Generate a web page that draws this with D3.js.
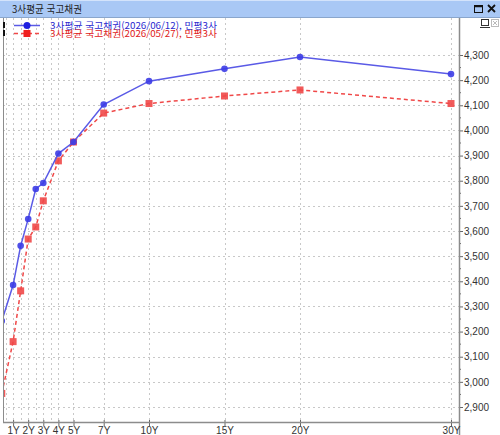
<!DOCTYPE html>
<html lang="ko">
<head>
    <meta charset="UTF-8">
    <title>3사평균 국고채권</title>
    <style>
        body { margin: 0; background: #fff; }
        svg { display: block; }
        .y_axis text, .x_axis text {
            font-family: "Liberation Sans", sans-serif;
            font-size: 10px;
            fill: #333;
        }
        .kr {
            font-family: "Noto Sans CJK KR", sans-serif;
            font-size: 10px;
        }
        .legend_text {
            font-family: "Noto Sans CJK KR", sans-serif;
            font-size: 9px;
        }
    </style>
</head>
<body>
<script src="https://cdn.jsdelivr.net/npm/d3@7"></script>
<script>
    // tenors in years
    const tenors = [0.25, 1, 1.5, 2, 2.5, 3, 4, 5, 7, 10, 15, 20, 30];
    const series_0612 = [3242, 3385, 3541, 3648, 3767, 3791, 3908, 3954, 4103, 4196, 4245, 4292, 4224];
    const series_0527 = [2954, 3160, 3362, 3568, 3616, 3720, 3879, 3954, 4069, 4107, 4137, 4161, 4107];
    const tick_tenors = [1, 2, 3, 4, 5, 7, 10, 15, 20, 30];
    const grid_tenors = [0.5, 1, 1.5, 2, 2.5, 3, 3.5, 4, 5, 7, 10, 15, 20, 30];
    const y_ticks = d3.range(2900, 4301, 100);
    const legend_labels = ['3사평균 국고채권(2026/06/12), 민평3사', '3사평균 국고채권(2026/05/27), 민평3사'];

    const svg_w = 500, svg_h = 435;
    const plot = { left: 3, right: 459, top: 18, bottom: 422 };

    const svg = d3.select('body').append('svg')
        .attr('width', svg_w)
        .attr('height', svg_h);

    // title bar
    svg.append('rect').attr('x', 0).attr('y', 0).attr('width', svg_w).attr('height', 17)
        .attr('fill', '#a9c8f5');
    svg.append('line').attr('x1', 0).attr('x2', svg_w).attr('y1', 0.5).attr('y2', 0.5)
        .attr('stroke', '#d3e3fb');
    svg.append('line').attr('x1', 0).attr('x2', svg_w).attr('y1', 17.5).attr('y2', 17.5)
        .attr('stroke', '#8aa6cc');
    svg.append('text').attr('class', 'kr').attr('x', 12).attr('y', 12.5)
        .attr('fill', '#222').attr('textLength', 70).attr('lengthAdjust', 'spacingAndGlyphs')
        .text('3사평균 국고채권');
    // window buttons
    svg.append('rect').attr('x', 474.5).attr('y', 5.5).attr('width', 8).attr('height', 7)
        .attr('fill', 'none').attr('stroke', '#111').attr('stroke-width', 1);
    svg.append('line').attr('x1', 474).attr('x2', 483).attr('y1', 6.5).attr('y2', 6.5)
        .attr('stroke', '#111').attr('stroke-width', 1.5);
    svg.append('path').attr('d', 'M488,5 L495,12 M495,5 L488,12')
        .attr('stroke', '#111').attr('stroke-width', 1.8);
    svg.append('rect').attr('x', 481.5).attr('y', 19.5).attr('width', 7).attr('height', 6)
        .attr('fill', 'none').attr('stroke', '#333');
    svg.append('line').attr('x1', 480).attr('x2', 490).attr('y1', 27.5).attr('y2', 27.5)
        .attr('stroke', '#333');
    svg.append('rect').attr('x', 491.5).attr('y', 19.5).attr('width', 7).attr('height', 7)
        .attr('fill', 'none').attr('stroke', '#bbb');
    svg.append('path').attr('d', 'M493,21 L497,25 M497,21 L493,25').attr('stroke', '#bbb');

    const x_scale = d3.scaleLinear([0, 30], [-2, 451]);
    const y_scale = d3.scaleLinear([2900, 4300], [407, 55]);

    // grid
    const grid = svg.append('g').attr('stroke', '#c8c8c8').attr('stroke-dasharray', '2,3');
    grid.selectAll('line.h').data(y_ticks).join('line')
        .attr('class', 'h')
        .attr('x1', plot.left).attr('x2', plot.right)
        .attr('y1', d => Math.round(y_scale(d)) + 0.5)
        .attr('y2', d => Math.round(y_scale(d)) + 0.5);
    grid.selectAll('line.v').data(grid_tenors).join('line')
        .attr('class', 'v')
        .attr('y1', plot.top).attr('y2', plot.bottom)
        .attr('x1', d => Math.round(x_scale(d)) + 0.5)
        .attr('x2', d => Math.round(x_scale(d)) + 0.5);

    // frame lines
    svg.append('line').attr('x1', plot.left + 0.5).attr('x2', plot.left + 0.5)
        .attr('y1', plot.top).attr('y2', plot.bottom).attr('stroke', '#8c8c8c');

    // axes
    const y_axis = d3.axisRight(y_scale)
        .tickValues(y_ticks)
        .tickSize(4)
        .tickPadding(1)
        .tickFormat(d3.format(','));
    svg.append('g').attr('class', 'y_axis')
        .attr('transform', `translate(${plot.right}, 0)`)
        .call(y_axis)
        .call(g => g.select('.domain').remove())
        .call(g => g.selectAll('line').attr('stroke', '#666'));
    // minor ticks
    svg.append('g').selectAll('line').data(y_ticks.slice(0, -1)).join('line')
        .attr('x1', plot.right).attr('x2', plot.right + 2)
        .attr('y1', d => y_scale(d + 50)).attr('y2', d => y_scale(d + 50))
        .attr('stroke', '#666');
    svg.append('line').attr('x1', plot.right + 0.5).attr('x2', plot.right + 0.5)
        .attr('y1', plot.top).attr('y2', svg_h).attr('stroke', '#8c8c8c').attr('stroke-width', 1.5);

    const x_axis = d3.axisBottom(x_scale)
        .tickValues(tick_tenors)
        .tickSize(4)
        .tickPadding(1)
        .tickFormat(d => d + 'Y');
    svg.append('g').attr('class', 'x_axis')
        .attr('transform', `translate(0, ${plot.bottom})`)
        .call(x_axis)
        .call(g => g.select('.domain').remove())
        .call(g => g.selectAll('line').attr('y1', -2).attr('stroke', '#666'));
    svg.append('line').attr('x1', plot.left).attr('x2', plot.right)
        .attr('y1', plot.bottom + 0.5).attr('y2', plot.bottom + 0.5)
        .attr('stroke', '#8c8c8c').attr('stroke-width', 1.5);

    // series
    svg.append('clipPath').attr('id', 'clip')
        .append('rect').attr('x', plot.left + 1).attr('y', plot.top + 1)
        .attr('width', plot.right - plot.left - 1).attr('height', plot.bottom - plot.top - 1);
    const area = svg.append('g').attr('clip-path', 'url(#clip)');

    const line = d3.line().x(d => x_scale(d[0])).y(d => y_scale(d[1]));
    const red_pts = tenors.map((t, i) => [t, series_0527[i]]);
    const blue_pts = tenors.map((t, i) => [t, series_0612[i]]);

    area.append('path').datum(red_pts).attr('d', line)
        .attr('fill', 'none').attr('stroke', '#f04848').attr('stroke-width', 1.5)
        .attr('stroke-dasharray', '4,3');
    area.selectAll('rect.r').data(red_pts).join('rect').attr('class', 'r')
        .attr('x', d => x_scale(d[0]) - 3.5).attr('y', d => y_scale(d[1]) - 3.5)
        .attr('width', 7).attr('height', 7).attr('fill', '#f04848').attr('opacity', 0.9);

    area.append('path').datum(blue_pts).attr('d', line)
        .attr('fill', 'none').attr('stroke', '#5a5ae6').attr('stroke-width', 1.5);
    area.selectAll('circle.b').data(blue_pts).join('circle').attr('class', 'b')
        .attr('cx', d => x_scale(d[0])).attr('cy', d => y_scale(d[1]))
        .attr('r', 3.3).attr('fill', '#3c3ce6').attr('opacity', 0.9);

    // legend
    const legend = svg.append('g');
    const colors = ['#2a2ad0', '#e02020'];
    legend_labels.forEach((lab, i) => {
        const y = 25 + i * 8;
        legend.append('rect').attr('x', 3).attr('y', y - 3).attr('width', 2).attr('height', 6).attr('fill', '#111');
        legend.append('line').attr('x1', 14).attr('x2', 40).attr('y1', y + 0.5).attr('y2', y + 0.5)
            .attr('stroke', i === 0 ? '#5a5ae6' : '#f04848').attr('stroke-width', 1.5)
            .attr('stroke-dasharray', i === 0 ? null : '4,3');
        if (i === 0) {
            legend.append('circle').attr('cx', 27).attr('cy', y + 0.5).attr('r', 3.5).attr('fill', '#2020e0');
        } else {
            legend.append('rect').attr('x', 23.5).attr('y', y - 3).attr('width', 7).attr('height', 7).attr('fill', '#f02020');
        }
        legend.append('text').attr('class', 'legend_text').attr('x', 50).attr('y', y + 3.5)
            .attr('fill', colors[i]).attr('textLength', 167).attr('lengthAdjust', 'spacingAndGlyphs')
            .text(lab);
    });
</script>
</body>
</html>
